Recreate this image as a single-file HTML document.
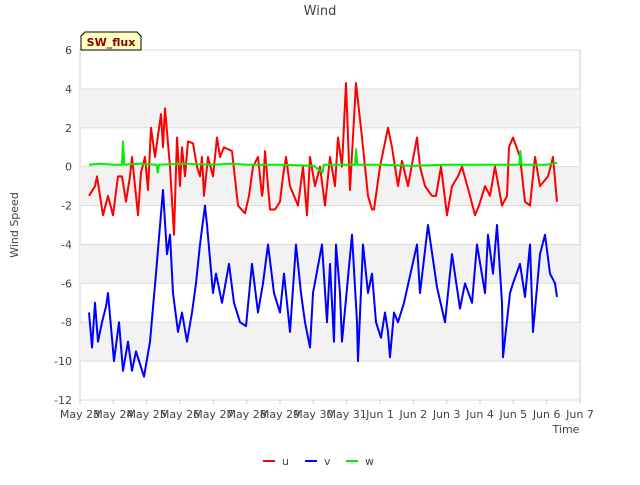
<!DOCTYPE html>
<html><head><meta charset="utf-8"><style>
body{margin:0;background:#fff;font-family:"Liberation Sans","DejaVu Sans",sans-serif}
svg text{font-family:"DejaVu Sans","Liberation Sans",sans-serif}
</style></head><body>
<svg id="c" width="640" height="480">
<text x="320" y="15" text-anchor="middle" font-size="13" fill="#444">Wind</text>
<g id="bands"></g><g id="grid"></g><g id="series"></g><g id="ticks"></g>
<text x="18" y="225" transform="rotate(-90 18 225)" text-anchor="middle" font-size="11" fill="#444">Wind Speed</text>
<text x="566" y="433" text-anchor="middle" font-size="11" fill="#444">Time</text>
<g>
<path d="M81,50 L81,36 L85,32 L137,32 L141,36 L141,50 Z" fill="#ffffc0" stroke="#000" stroke-width="1"/>
<text x="111" y="46" text-anchor="middle" font-size="11" font-weight="bold" fill="#8b0000">SW_flux</text></g>
<g id="legend"></g>
</svg>
<script>
const yTicks=[6,4,2,0,-2,-4,-6,-8,-10,-12];
const xTickLabels=["May 23","May 24","May 25","May 26","May 27","May 28","May 29","May 30","May 31","Jun 1","Jun 2","Jun 3","Jun 4","Jun 5","Jun 6","Jun 7"];
const uTime=[0.27,0.45,0.51,0.69,0.84,0.99,1.14,1.26,1.38,1.5,1.56,1.74,1.83,1.95,2.04,2.13,2.25,2.43,2.49,2.55,2.7,2.82,2.91,3.0,3.06,3.15,3.24,3.39,3.51,3.6,3.66,3.72,3.84,3.99,4.11,4.2,4.32,4.56,4.74,4.95,5.07,5.19,5.34,5.46,5.49,5.55,5.7,5.85,6.0,6.09,6.18,6.3,6.54,6.69,6.81,6.9,7.05,7.2,7.35,7.5,7.65,7.74,7.86,7.98,8.1,8.28,8.46,8.64,8.76,8.82,9.0,9.24,9.3,9.36,9.54,9.66,9.84,10.11,10.2,10.35,10.56,10.68,10.83,11.01,11.16,11.34,11.46,11.7,11.85,11.97,12.15,12.3,12.45,12.66,12.81,12.87,12.99,13.2,13.35,13.5,13.65,13.8,14.04,14.19,14.31];
const uVals=[-1.5,-1,-0.5,-2.5,-1.5,-2.5,-0.5,-0.5,-1.8,-0.5,0.5,-2.5,-0.3,0.5,-1.2,2,0.5,2.7,1,3,0,-3.5,1.5,-1,1,-0.5,1.3,1.2,0,-0.5,0.5,-1.5,0.5,-0.5,1.5,0.5,1,0.8,-2,-2.4,-1.5,0,0.5,-1.5,-1.2,0.8,-2.2,-2.2,-1.8,-0.5,0.5,-1,-2,0,-2.5,0.5,-1,0,-2,0.5,-1,1.5,0,4.3,-1.2,4.3,1.5,-1.5,-2.2,-2.2,0,2,1.5,1,-1,0.3,-1,1.5,0,-1,-1.5,-1.5,0,-2.5,-1,-0.5,0,-1.5,-2.5,-2,-1,-1.5,0,-2,-1.5,1,1.5,0.5,-1.8,-2,0.5,-1,-0.5,0.5,-1.8];
const vTime=[0.27,0.36,0.45,0.54,0.66,0.78,0.84,1.02,1.17,1.29,1.44,1.56,1.68,1.92,2.1,2.28,2.49,2.61,2.7,2.79,2.94,3.06,3.21,3.36,3.48,3.6,3.75,3.81,3.99,4.08,4.26,4.47,4.62,4.8,4.98,5.16,5.34,5.49,5.64,5.82,6.0,6.12,6.3,6.48,6.63,6.75,6.9,6.99,7.26,7.41,7.5,7.62,7.68,7.8,7.86,8.16,8.31,8.34,8.49,8.64,8.76,8.88,9.03,9.15,9.24,9.3,9.42,9.54,9.72,10.11,10.2,10.44,10.71,10.95,11.16,11.4,11.55,11.76,11.91,12.15,12.24,12.39,12.51,12.66,12.69,12.9,12.99,13.2,13.35,13.5,13.59,13.8,13.95,14.1,14.25,14.31];
const vVals=[-7.5,-9.3,-7,-9,-8,-7.2,-6.5,-10,-8,-10.5,-9,-10.5,-9.5,-10.8,-9,-5.5,-1.2,-4.5,-3.5,-6.5,-8.5,-7.5,-9,-7.5,-6,-4,-2,-3,-6.5,-5.5,-7,-5,-7,-8,-8.2,-5,-7.5,-6,-4,-6.5,-7.5,-5.5,-8.5,-4,-6.5,-8,-9.3,-6.5,-4,-8,-5,-9,-4,-6.5,-9,-3.5,-8,-10,-4,-6.5,-5.5,-8,-8.8,-7.5,-8.5,-9.8,-7.5,-8,-7,-4,-6.5,-3,-6.2,-8,-4.5,-7.3,-6,-7,-4,-6.5,-3.5,-5.5,-3,-7,-9.8,-6.5,-6,-5,-6.7,-4,-8.5,-4.5,-3.5,-5.5,-6,-6.7];
const wTime=[0.27,0.6,1.0,1.26,1.29,1.33,1.8,2.3,2.33,2.37,3.0,4.0,4.5,5.0,6.0,7.0,7.28,7.31,7.35,8.25,8.28,8.32,9.0,10.0,11.0,12.0,13.0,13.18,13.21,13.25,14.0,14.31];
const wVals=[0.1,0.15,0.1,0.1,1.3,0.1,0.15,0.1,-0.3,0.1,0.15,0.1,0.15,0.1,0.1,0.05,-0.3,0.1,0.1,0.1,0.9,0.1,0.1,0.05,0.1,0.1,0.1,0.1,0.8,0.1,0.1,0.2];
const X0=80,X1=580,Y0=50,Y1=400;
const sx=d=>X0+(X1-X0)*d/15, sy=v=>Y1-(Y1-Y0)*(v+12)/18;
const NS="http://www.w3.org/2000/svg";
function mk(t,a,p){const e=document.createElementNS(NS,t);for(const k in a)e.setAttribute(k,a[k]);p.appendChild(e);return e;}
const bands=document.getElementById('bands'),grid=document.getElementById('grid'),ticks=document.getElementById('ticks');
mk('rect',{x:X0,y:Y0,width:X1-X0,height:Y1-Y0,fill:'#fff',stroke:'#ccc'},bands);
for(let v=-10;v<6;v+=4){const b=mk('rect',{x:X0,y:sy(v+2),width:X1-X0,height:sy(v)-sy(v+2),fill:'#f2f2f2'},bands);

}
yTicks.forEach(v=>{mk('line',{x1:X0,x2:X1,y1:sy(v),y2:sy(v),stroke:'#ddd'},grid);
const t=mk('text',{x:X0-8,y:sy(v)+4,'text-anchor':'end','font-size':11,fill:'#444'},ticks);t.textContent=v;

});
xTickLabels.forEach((l,i)=>{mk('line',{x1:sx(i),x2:sx(i),y1:Y1,y2:Y1+4,stroke:'#ccc'},ticks);
const t=mk('text',{x:sx(i),y:Y1+18,'text-anchor':'middle','font-size':11,fill:'#444'},ticks);t.textContent=l;

});
const ser=document.getElementById('series');
[[uTime,uVals,'#ff0000','u-series'],[vTime,vVals,'#0000ff','v-series'],[wTime,wVals,'#00ee00','w-series']].forEach(([t,v,c,n])=>{
const p=mk('polyline',{points:t.map((d,i)=>sx(d)+','+sy(v[i])).join(' '),fill:'none',stroke:c,'stroke-width':2,'stroke-linejoin':'round'},ser);

});
const lg=document.getElementById('legend');
[['u','#ff0000',263],['v','#0000ff',305],['w','#00ee00',346]].forEach(([n,c,x])=>{
const g=mk('g',{},lg);


mk('line',{x1:x,x2:x+12,y1:461,y2:461,stroke:c,'stroke-width':2},g);
const t=mk('text',{x:x+19,y:465,'font-size':11,fill:'#444'},g);t.textContent=n;});
</script></body></html>
